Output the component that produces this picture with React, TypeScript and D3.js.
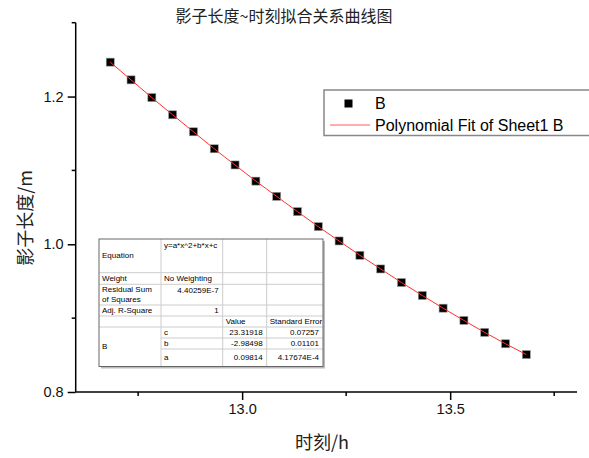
import React, { useEffect, useRef } from 'react';
import * as d3 from 'd3';

// time (h) and shadow length (m)
const hours = [12.683, 12.733, 12.783, 12.833, 12.883, 12.933, 12.983, 13.033, 13.083, 13.133, 13.183,
  13.233, 13.283, 13.333, 13.383, 13.433, 13.483, 13.533, 13.583, 13.633, 13.683];
const lengths = [1.2466, 1.2226, 1.1986, 1.1753, 1.1523, 1.1293, 1.1074, 1.0855, 1.0649, 1.0442, 1.0239,
  1.0045, 0.9851, 0.9666, 0.9482, 0.9307, 0.9135, 0.8969, 0.8807, 0.8653, 0.8507];

const xMajorTicks = [13.0, 13.5];
const xMinorTicks = [12.75, 13.25, 13.75];
const yMajorTicks = [0.8, 1.0, 1.2];
const yMinorTicks = [0.9, 1.1, 1.3];

const titleText = '影子长度~时刻拟合关系曲线图';
const xTitle = '时刻/h';
const yTitle = '影子长度/m';
const legendLabels = ['B', 'Polynomial Fit of Sheet1 B'];

// fit report table (text only)
const tableRows = [
  ['Equation', 'y=a*x^2+b*x+c', '', ''],
  ['Weight', 'No Weighting', '', ''],
  ['Residual Sum|of Squares', '4.40259E-7', '', ''],
  ['Adj. R-Square', '1', '', ''],
  ['', '', 'Value', 'Standard Error'],
  ['B', 'c', '23.31918', '0.07257'],
  ['', 'b', '-2.98498', '0.01101'],
  ['', 'a', '0.09814', '4.17674E-4'],
];

const W = 589;
const H = 458;

const Chart = () => {
  const ref = useRef<SVGSVGElement>(null);

  useEffect(() => {
    const svg = d3.select(ref.current);
    svg.selectAll('*').remove();

    const left = 75.7, right = 575, top = 22.7, bottom = 392;
    const sans = '"Liberation Sans", Arial, sans-serif';
    const cjk = '"Noto Sans CJK SC", sans-serif';

    const x = d3.scaleLinear().domain([12.6, 13.8]).range([left, right]);
    const y = d3.scaleLinear().domain([0.8, 1.3]).range([bottom, top]);

    // title
    svg.append('text')
      .attr('x', 284).attr('y', 22)
      .attr('text-anchor', 'middle')
      .attr('font-family', cjk).attr('font-size', 16)
      .attr('fill', '#222')
      .text(titleText);

    // axes
    const axisG = svg.append('g').attr('font-family', sans);

    const xAxis = axisG.append('g')
      .attr('transform', `translate(0,${bottom})`)
      .call(d3.axisBottom(x).tickValues(xMajorTicks).tickSize(8).tickPadding(4).tickFormat(d3.format('.1f')));
    xAxis.append('g').selectAll('line').data(xMinorTicks).join('line')
      .attr('x1', d => x(d)).attr('x2', d => x(d)).attr('y1', 0).attr('y2', 4)
      .attr('stroke', '#000').attr('stroke-width', 1.5);

    const yAxis = axisG.append('g')
      .attr('transform', `translate(${left},0)`)
      .call(d3.axisLeft(y).tickValues(yMajorTicks).tickSize(8).tickPadding(4).tickFormat(d3.format('.1f')));
    yAxis.append('g').selectAll('line').data(yMinorTicks).join('line')
      .attr('y1', d => y(d)).attr('y2', d => y(d)).attr('x1', 0).attr('x2', -4)
      .attr('stroke', '#000').attr('stroke-width', 1.5);

    [xAxis, yAxis].forEach(g => {
      g.select('.domain').attr('stroke-width', 1.5).attr('d', null);
      g.selectAll('.tick line').attr('stroke-width', 1.5);
      g.selectAll('.tick text').attr('font-size', 14.5).attr('fill', '#111').attr('font-family', sans);
    });
    xAxis.select('.domain').remove();
    yAxis.select('.domain').remove();
    axisG.append('line').attr('x1', left).attr('x2', right + 2).attr('y1', bottom).attr('y2', bottom)
      .attr('stroke', '#000').attr('stroke-width', 1.5);
    axisG.append('line').attr('x1', left).attr('x2', left).attr('y1', top).attr('y2', bottom)
      .attr('stroke', '#000').attr('stroke-width', 1.5);

    // axis titles
    svg.append('text')
      .attr('x', 322).attr('y', 449)
      .attr('text-anchor', 'middle')
      .attr('font-family', cjk).attr('font-size', 18).attr('fill', '#222')
      .text(xTitle);
    svg.append('text')
      .attr('transform', `translate(24,218) rotate(-90)`)
      .attr('text-anchor', 'middle')
      .attr('dominant-baseline', 'central')
      .attr('font-family', cjk).attr('font-size', 18).attr('fill', '#222')
      .text(yTitle);

    const pts = hours.map((h, i) => [h, lengths[i]] as [number, number]);

    // markers
    svg.append('g').selectAll('rect').data(pts).join('rect')
      .attr('x', d => x(d[0]) - 4).attr('y', d => y(d[1]) - 4)
      .attr('width', 8).attr('height', 8)
      .attr('fill', '#000').attr('stroke', '#999').attr('stroke-width', 0.6);

    // fit line
    svg.append('path')
      .datum(pts)
      .attr('fill', 'none').attr('stroke', '#ff3030').attr('stroke-width', 1)
      .attr('d', d3.line<[number, number]>().x(d => x(d[0])).y(d => y(d[1])).curve(d3.curveMonotoneX));

    // legend
    const lg = svg.append('g');
    lg.append('rect').attr('x', 324).attr('y', 90).attr('width', 270).attr('height', 45.5)
      .attr('fill', '#fff').attr('stroke', '#888').attr('stroke-width', 1.5);
    lg.append('rect').attr('x', 344.5).attr('y', 99.5).attr('width', 8).attr('height', 8).attr('fill', '#000');
    lg.append('line').attr('x1', 330).attr('x2', 370).attr('y1', 125).attr('y2', 125)
      .attr('stroke', '#ff9090').attr('stroke-width', 1.5);
    lg.selectAll('text').data(legendLabels).join('text')
      .attr('x', 375).attr('y', (d, i) => 103.5 + i * 22)
      .attr('dominant-baseline', 'central')
      .attr('font-family', sans).attr('font-size', 16).attr('fill', '#000')
      .text(d => d);

    // fit table
    const colX = [99, 161, 222.7, 266.7, 323];
    const rowY = [239, 272.7, 284.3, 305, 316, 327, 338, 349, 366.5];
    const tb = svg.append('g').attr('font-family', sans).attr('font-size', 8).attr('fill', '#000');
    tb.append('rect').attr('x', colX[0] + 2).attr('y', rowY[0] + 2)
      .attr('width', colX[4] - colX[0]).attr('height', rowY[8] - rowY[0]).attr('fill', '#bbb');
    tb.append('rect').attr('x', colX[0]).attr('y', rowY[0])
      .attr('width', colX[4] - colX[0]).attr('height', rowY[8] - rowY[0]).attr('fill', '#fff');
    // inner lines
    for (let r = 1; r < 8; r++) {
      const x0 = r >= 6 ? colX[1] : colX[0];
      tb.append('line').attr('x1', x0).attr('x2', colX[4]).attr('y1', rowY[r]).attr('y2', rowY[r])
        .attr('stroke', '#ccc').attr('stroke-width', 1);
    }
    for (let c = 1; c < 4; c++) {
      tb.append('line').attr('x1', colX[c]).attr('x2', colX[c]).attr('y1', rowY[0]).attr('y2', rowY[8])
        .attr('stroke', '#ccc').attr('stroke-width', 1);
    }
    tb.append('rect').attr('x', colX[0]).attr('y', rowY[0])
      .attr('width', colX[4] - colX[0]).attr('height', rowY[8] - rowY[0])
      .attr('fill', 'none').attr('stroke', '#666').attr('stroke-width', 1);

    tableRows.forEach((row, r) => {
      row.forEach((cell, c) => {
        if (!cell) return;
        const y0 = rowY[r], y1 = rowY[r + 1];
        const lines = cell.split('|');
        const numeric = /^[-\d]/.test(cell) && c >= 1;
        let ty = (y0 + y1) / 2;
        if (r === 0 && c === 1) ty = y0 + 6;
        if (r === 2 && c === 1) ty = y0 + 6;
        if (c === 0 && r === 5) ty = (rowY[5] + rowY[8]) / 2;
        const t = tb.append('text')
          .attr('x', numeric ? colX[c + 1] - 4 : colX[c] + 3)
          .attr('text-anchor', numeric ? 'end' : 'start');
        lines.forEach((ln, k) => {
          t.append('tspan')
            .attr('x', numeric ? colX[c + 1] - 4 : colX[c] + 3)
            .attr('y', ty + (k - (lines.length - 1) / 2) * 9.5)
            .attr('dominant-baseline', 'central')
            .text(ln);
        });
      });
    });
  }, []);

  return <svg ref={ref} width={W} height={H} style={{ display: 'block', background: '#fff' }} />;
};

export default function App() {
  return (
    <div style={{ position: 'absolute', left: 0, top: 0 }}>
      <Chart />
    </div>
  );
}
